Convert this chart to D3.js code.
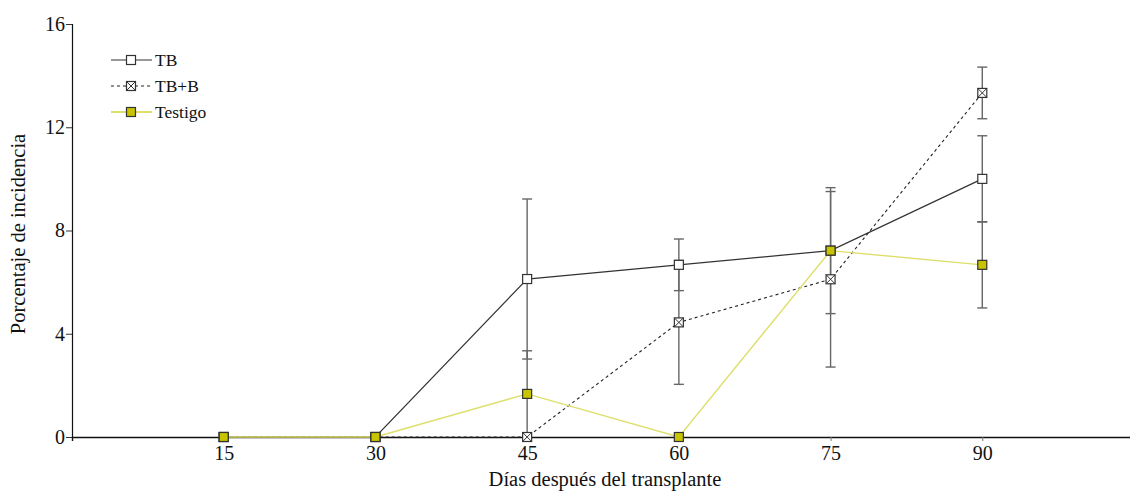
<!DOCTYPE html>
<html>
<head>
<meta charset="utf-8">
<script src="https://cdn.jsdelivr.net/npm/d3@7"></script>
<style>
  html, body { margin: 0; padding: 0; background: #fff; }
  svg { display: block; }
  text { font-family: "Liberation Serif", "Times New Roman", serif; fill: #111; }
</style>
</head>
<body>
<svg id="chart" width="1130" height="491"></svg>
<script>
// Days after transplant
const days = [15, 30, 45, 60, 75, 90];
const xTicks = [15, 30, 45, 60, 75, 90];
const yTicks = [0, 4, 8, 12, 16];

// Incidence percentage per treatment and its standard error
const tbValues     = [0, 0, 6.12, 6.67, 7.22, 10.0];
const tbErrors     = [0, 0, 3.10, 1.00, 2.44, 1.67];
const tbbValues    = [0, 0, 0, 4.44, 6.11, 13.33];
const tbbErrors    = [0, 0, 0, 2.40, 3.40, 1.00];
const testValues   = [0, 0, 1.67, 0, 7.22, 6.67];
const testErrors   = [0, 0, 1.67, 0, 0, 1.67];

const seriesNames = ["TB", "TB+B", "Testigo"];

const series = [
  { name: seriesNames[0], values: tbValues, errors: tbErrors,
    line: "#333", dash: null, width: 1.2, fill: "#fff", kind: "open" },
  { name: seriesNames[1], values: tbbValues, errors: tbbErrors,
    line: "#222", dash: "3,3", width: 1.1, fill: "#fff", kind: "cross" },
  { name: seriesNames[2], values: testValues, errors: testErrors,
    line: "#dede6a", dash: null, width: 1.4, fill: "#c8c400", kind: "filled" }
];

const svg = d3.select("#chart");
const plotLeft = 72, plotTop = 24, plotBottom = 437, plotRight = 1134;

const x = d3.scaleLinear().domain([0, 105]).range([plotLeft, plotRight]);
const y = d3.scaleLinear().domain([0, 16]).range([plotBottom, plotTop]);

// Axes
const yAxis = d3.axisLeft(y).tickValues(yTicks).tickSize(6).tickPadding(1);
const gy = svg.append("g").attr("transform", `translate(${plotLeft},0)`).call(yAxis);
gy.select(".domain").attr("stroke", "#111").attr("stroke-width", 1.2);
gy.selectAll(".tick line").attr("stroke", "#333");
gy.selectAll(".tick text").attr("font-size", 20).attr("font-family", "Liberation Serif").attr("fill", "#111");

const xAxis = d3.axisBottom(x).tickValues(xTicks).tickSize(4).tickPadding(5);
const gx = svg.append("g").attr("transform", `translate(0,${plotBottom})`).call(xAxis);
gx.select(".domain").attr("stroke", "#111").attr("stroke-width", 1.4);
gx.selectAll(".tick line").attr("stroke", "#777");
gx.selectAll(".tick text").attr("font-size", 20).attr("font-family", "Liberation Serif").attr("fill", "#111");

// Axis titles
svg.append("text")
  .attr("x", 605).attr("y", 486)
  .attr("text-anchor", "middle").attr("font-size", 20.5)
  .text("Días después del transplante");
svg.append("text")
  .attr("transform", "translate(25,234) rotate(-90)")
  .attr("text-anchor", "middle").attr("font-size", 20.5)
  .text("Porcentaje de incidencia");

// Error bars
const capHalf = 5;
const errG = svg.append("g").attr("stroke", "#666").attr("stroke-width", 1.4);
series.forEach(s => {
  days.forEach((d, i) => {
    const e = s.errors[i];
    if (!e) return;
    const v = s.values[i];
    const hi = v + e, lo = Math.max(0, v - e);
    errG.append("line").attr("x1", x(d)).attr("x2", x(d)).attr("y1", y(hi)).attr("y2", y(lo));
    errG.append("line").attr("x1", x(d) - capHalf).attr("x2", x(d) + capHalf).attr("y1", y(hi)).attr("y2", y(hi));
    if (v - e > 0) {
      errG.append("line").attr("x1", x(d) - capHalf).attr("x2", x(d) + capHalf).attr("y1", y(lo)).attr("y2", y(lo));
    }
  });
});

// Lines
const lineGen = d3.line().x((v, i) => x(days[i])).y(v => y(v));
series.forEach(s => {
  svg.append("path")
    .attr("d", lineGen(s.values))
    .attr("fill", "none")
    .attr("stroke", s.line)
    .attr("stroke-width", s.width)
    .attr("stroke-dasharray", s.dash);
});

// Markers
const half = 4.5;
function marker(g, cx, cy, s) {
  g.append("rect")
    .attr("x", cx - half).attr("y", cy - half)
    .attr("width", half * 2).attr("height", half * 2)
    .attr("fill", s.fill).attr("stroke", "#333").attr("stroke-width", 1.2);
  if (s.kind === "cross") {
    g.append("path")
      .attr("d", `M${cx - half},${cy - half}L${cx + half},${cy + half}M${cx + half},${cy - half}L${cx - half},${cy + half}`)
      .attr("stroke", "#333").attr("stroke-width", 1);
  }
}
series.forEach(s => {
  const g = svg.append("g");
  days.forEach((d, i) => marker(g, x(d), y(s.values[i]), s));
});

// Legend
const legend = svg.append("g");
series.forEach((s, i) => {
  const ly = 60 + i * 26;
  legend.append("line")
    .attr("x1", 111).attr("x2", 152).attr("y1", ly).attr("y2", ly)
    .attr("stroke", s.line).attr("stroke-width", s.width + (s.kind === "filled" ? 0.6 : 0))
    .attr("stroke-dasharray", s.dash);
  marker(legend, 131, ly, s);
  legend.append("text")
    .attr("x", 155).attr("y", ly + 6)
    .attr("font-size", 17.5)
    .text(s.name);
});
</script>
</body>
</html>
